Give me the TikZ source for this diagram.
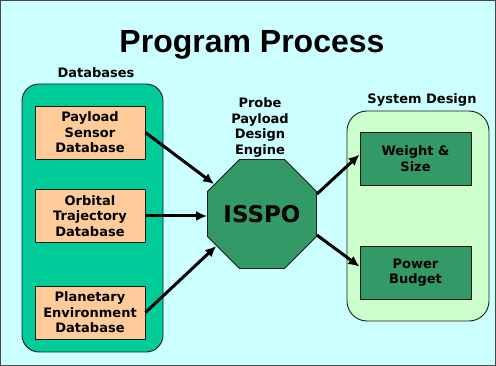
\documentclass[tikz,border=0pt]{standalone}
\usepackage{fontspec}
\setmainfont{DejaVu Sans}
\newfontfamily\titlefont{Liberation Sans}
\usetikzlibrary{shapes.geometric,arrows.meta}

\definecolor{skybg}{HTML}{CCFFFF}
\definecolor{dbteal}{HTML}{00CC99}
\definecolor{dbpeach}{HTML}{FFCC99}
\definecolor{engreen}{HTML}{339966}
\definecolor{sysmint}{HTML}{CCFFCC}
\definecolor{edgegray}{HTML}{1A1A1A}

\tikzset{>={Latex[length=11pt,width=10pt]}}

\begin{document}
\begin{tikzpicture}[x=1pt,y=-1pt]
	\tikzstyle{group} = [draw=edgegray, line width=0.9pt, rounded corners=17pt, inner sep=0pt]
	\tikzstyle{dbbox} = [draw=edgegray, line width=0.9pt, fill=dbpeach, minimum width=110pt, minimum height=53pt, inner sep=0pt, align=center, font=\fontsize{13}{15.5}\selectfont\bfseries]
	\tikzstyle{sysbox} = [dbbox, fill=engreen, minimum width=111pt]
	\tikzstyle{caption} = [align=center, inner sep=0pt, font=\fontsize{13}{15.7}\selectfont\bfseries]
	\tikzstyle{flow} = [->, line width=3pt]

	\useasboundingbox (0,0) rectangle (496,366);
	\fill[skybg] (0,0) rectangle (496,366);
	\draw[edgegray!80, line width=1pt] (0.5,0.5) rectangle (495.5,365.5);

%----------Title------------------------------
	\node[anchor=base, inner sep=0pt, font=\titlefont\fontsize{32}{36}\selectfont\bfseries] (title) at (252,53) {Program Process};

%----------Databases------------------------------
	\node[caption] (dblabel) at (96,73) {Databases};
	\node[group, fill=dbteal, minimum width=141pt, minimum height=268pt] (dbgroup) at (92.5,218) {};

	\node[dbbox] (payload) at (90,132.5) {Payload\\Sensor\\Database};
	\node[dbbox] (orbital) at (90,216) {Orbital\\Trajectory\\Database};
	\node[dbbox] (planetary) at (90,312.5) {Planetary\\Environment\\Database};

%----------Engine------------------------------
	\node[caption] (engine) at (260,127.5) {Probe\\Payload\\Design\\Engine};
	\node[regular polygon, regular polygon sides=8, minimum size=113pt, inner sep=0pt,
		draw=edgegray, line width=0.9pt, fill=engreen, font=\fontsize{23}{26}\selectfont\bfseries] (isspo) at (262,214) {ISSPO};

%----------System Design------------------------------
	\node[caption] (syslabel) at (422,100) {System Design};
	\node[group, fill=sysmint, rounded corners=20pt, minimum width=142pt, minimum height=210pt] (sysgroup) at (418,216) {};

	\node[sysbox] (weight) at (415.5,158.5) {Weight \&\\Size};
	\node[sysbox] (power) at (415.5,272.5) {Power\\Budget};

%----------Arrows------------------------------
	\draw[flow] (payload.east) -- (isspo.148);
	\draw[flow] (orbital.east) -- (orbital.east -| isspo.west);
	\draw[flow] (planetary.east) -- (isspo.215);

	\draw[flow] (isspo.20) -- (weight.176);
	\draw[flow] (isspo.-21) -- (power.174);
\end{tikzpicture}
\end{document}
